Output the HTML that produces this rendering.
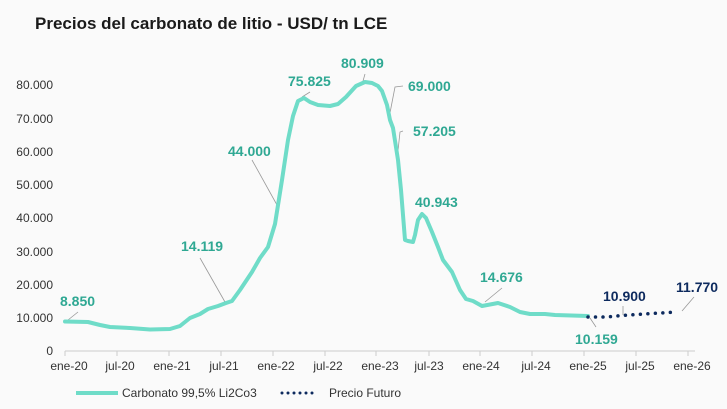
<!DOCTYPE html>
<html><head><meta charset="utf-8"><style>
body{margin:0;background:#fafafa;}
svg text{font-family:"Liberation Sans",sans-serif;}
</style></head><body>
<svg width="727" height="404" viewBox="0 0 727 404" xmlns="http://www.w3.org/2000/svg">
<rect width="727" height="404" fill="#fafafa"/>
<text x="35" y="29" font-size="17" font-weight="bold" fill="#1a1a1a">Precios del carbonato de litio - USD/ tn LCE</text>
<g font-size="12" fill="#333" text-anchor="end">
<text x="53" y="89">80.000</text><text x="53" y="123">70.000</text><text x="53" y="156">60.000</text>
<text x="53" y="189">50.000</text><text x="53" y="222">40.000</text><text x="53" y="256">30.000</text>
<text x="53" y="289">20.000</text><text x="53" y="322">10.000</text><text x="53" y="355">0</text>
</g>
<line x1="65" y1="351" x2="695" y2="351" stroke="#ccc"/>
<g stroke="#ccc">
<line x1="65" y1="351" x2="65" y2="356"/><line x1="117" y1="351" x2="117" y2="356"/><line x1="169" y1="351" x2="169" y2="356"/><line x1="221" y1="351" x2="221" y2="356"/><line x1="273" y1="351" x2="273" y2="356"/><line x1="325" y1="351" x2="325" y2="356"/><line x1="376" y1="351" x2="376" y2="356"/><line x1="429" y1="351" x2="429" y2="356"/><line x1="480" y1="351" x2="480" y2="356"/><line x1="532" y1="351" x2="532" y2="356"/><line x1="584" y1="351" x2="584" y2="356"/><line x1="636" y1="351" x2="636" y2="356"/><line x1="688" y1="351" x2="688" y2="356"/>
</g>
<g font-size="12" fill="#333" text-anchor="middle">
<text x="69" y="370">ene-20</text><text x="120" y="370">jul-20</text><text x="172" y="370">ene-21</text><text x="224" y="370">jul-21</text><text x="276" y="370">ene-22</text><text x="328" y="370">jul-22</text><text x="380" y="370">ene-23</text><text x="429" y="370">jul-23</text><text x="481" y="370">ene-24</text><text x="536" y="370">jul-24</text><text x="588" y="370">ene-25</text><text x="640" y="370">jul-25</text><text x="692" y="370">ene-26</text>
</g>
<g stroke="#999" stroke-width="0.8" fill="none">
<path d="M68 320 L78 312"/><path d="M200 258 L225 302"/><path d="M252 160 L277 205"/>
<path d="M302 97 L310 92"/><path d="M363 81 L365 74"/><path d="M389 118 L395 87 L403 86"/>
<path d="M397 160 L400 132 L403 131"/><path d="M485 302 L502 288"/><path d="M590 318 L596 327"/>
<path d="M623 315 L623 306"/><path d="M682 311 L694 297"/>
</g>
<path d="M65 321.5 L88 322 L100 325 L110 327 L130 328 L150 329.5 L170 329 L180 326 L190 318 L200 314 L208 309 L218 306 L226 303 L232 301 L240 290 L252 272 L260 258 L268 247 L275 224 L282 180 L288 140 L293 116 L298 101 L304 98 L310 102 L318 105 L330 106 L338 104 L346 97 L356 86 L365 82 L372 83 L378 86 L382 91 L387 105 L390 120 L393 128 L398 160 L401 190 L403 215 L405 240 L408 241 L413 242 L415 235 L418 220 L422 214 L426 218 L432 232 L438 247 L443 260 L452 272 L460 290 L466 299 L473 301 L482 306 L498 303 L510 307 L520 312 L530 314 L545 314 L555 315 L588 316" fill="none" stroke="#6fdcc8" stroke-width="4" stroke-linejoin="round" stroke-linecap="round"/>
<path d="M588 317 L606 317 L628 315 L676 312" fill="none" stroke="#0d2a5e" stroke-width="3.5" stroke-dasharray="0 7.5" stroke-linecap="round"/>
<g font-size="14" font-weight="bold" fill="#2fa893">
<text x="60" y="306">8.850</text><text x="181" y="251">14.119</text><text x="228" y="156">44.000</text>
<text x="288" y="86">75.825</text><text x="341" y="68">80.909</text><text x="408" y="91">69.000</text>
<text x="413" y="136">57.205</text><text x="415" y="207">40.943</text><text x="480" y="282">14.676</text>
<text x="575" y="344">10.159</text>
</g>
<g font-size="14" font-weight="bold" fill="#0d2a5e">
<text x="603" y="301">10.900</text><text x="676" y="292">11.770</text>
</g>
<line x1="76" y1="393" x2="118" y2="393" stroke="#6fdcc8" stroke-width="4"/>
<text x="122" y="397" font-size="12" fill="#333">Carbonato 99,5% Li2Co3</text>
<line x1="282" y1="393" x2="318" y2="393" stroke="#0d2a5e" stroke-width="3" stroke-dasharray="0 6" stroke-linecap="round"/>
<text x="329" y="397" font-size="12" fill="#333">Precio Futuro</text>
</svg>
</body></html>
